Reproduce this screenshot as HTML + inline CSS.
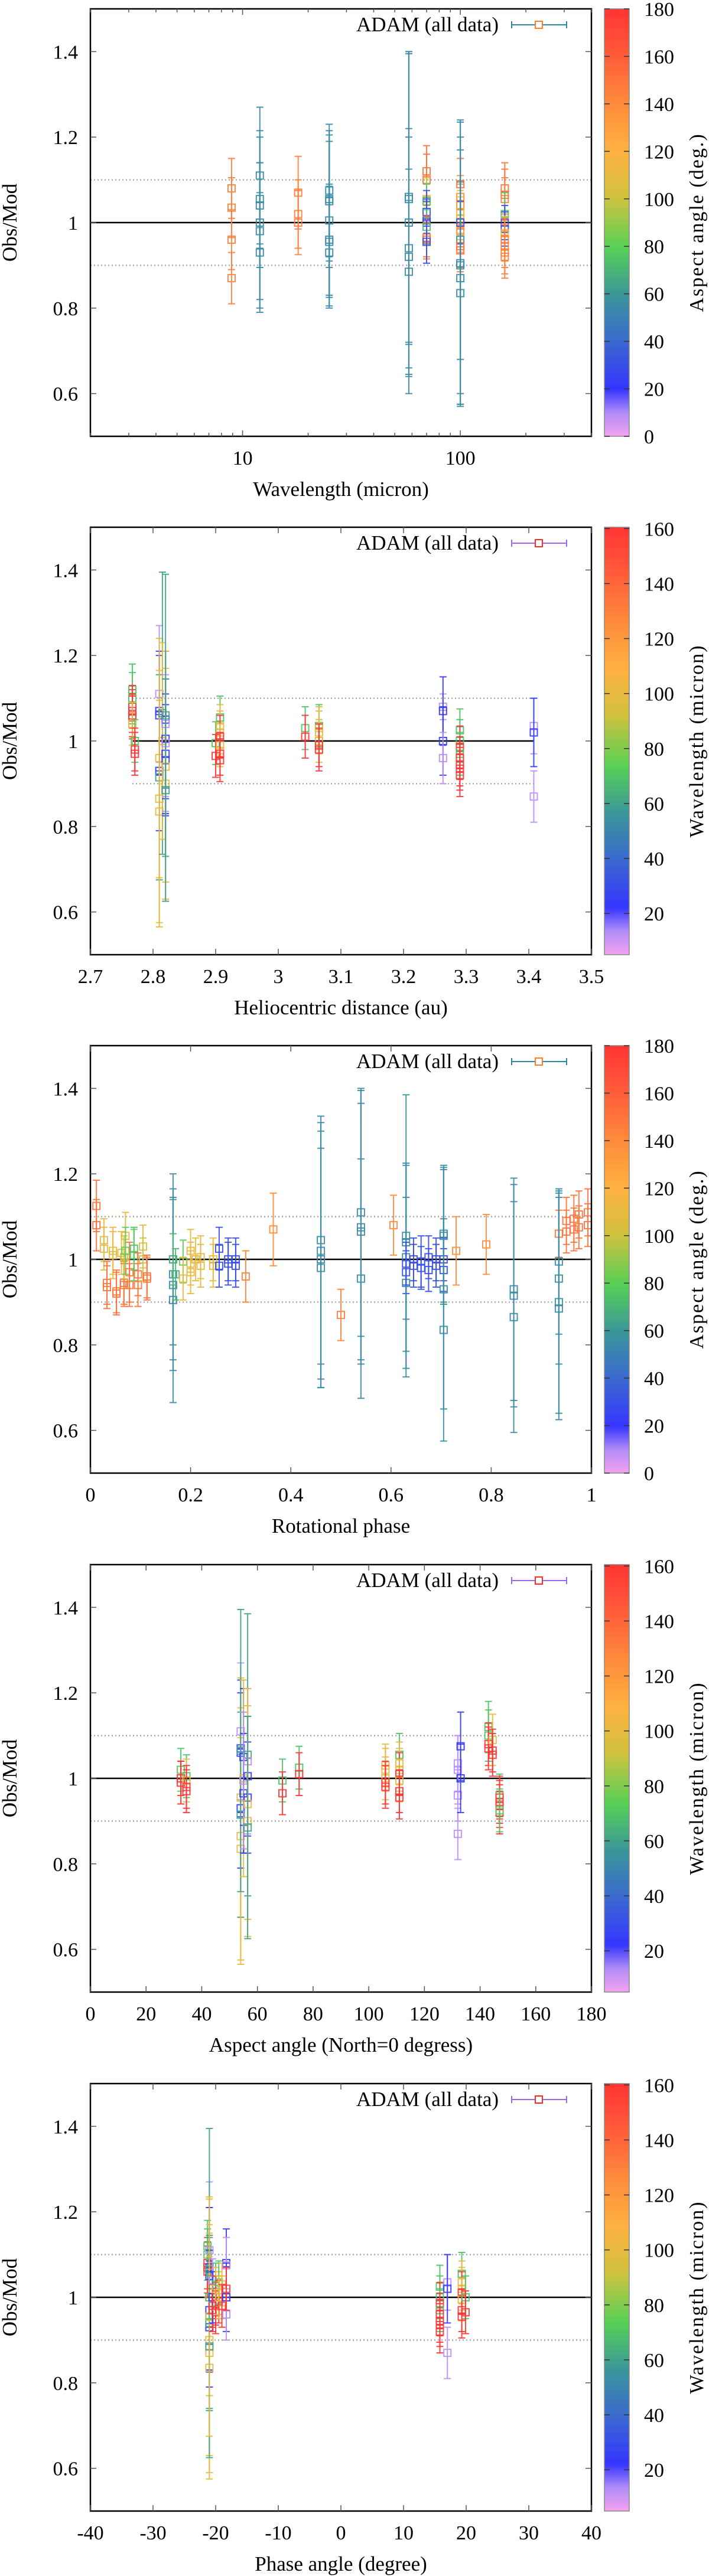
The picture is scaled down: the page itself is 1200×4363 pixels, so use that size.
<!DOCTYPE html>
<html><head><meta charset="utf-8">
<style>
html,body{margin:0;padding:0;background:#fff;}
svg{display:block;}
text{font-family:"Liberation Serif",serif;fill:#000;}
</style></head>
<body>
<svg id="fig" width="1200" height="4363" viewBox="0 0 1200 4363" xmlns="http://www.w3.org/2000/svg">
<defs id="defs"></defs>
</svg>
<script>
// ---------- Panel 1: Wavelength (log) vs Obs/Mod, color = aspect angle ----------
const p1X = [8.9,8.9,8.9,8.9, 12,12,12,12,12,12, 18,18,18, 25,25,25,25,25,25,25, 58,58,58,58,58,58,
  70,70,70,70,70,70,70,70,70,70,70, 100,100,100,100,100,100,100,100,100,100,100,100,100,100,
  160,160,160,160,160,160,160,160,160,160,160];
const p1Y = [1.08,1.035,0.96,0.87, 1.11,1.055,1.04,1.0,0.98,0.93, 1.07,1.02,1.0, 1.075,1.055,1.05,1.005,0.96,0.955,0.93, 1.06,1.055,1.0,0.94,0.92,0.885,
  1.12,1.1,1.055,1.05,1.025,1.005,1.0,0.99,0.965,0.96,0.955, 1.09,1.06,1.04,1.025,1.01,1.0,0.98,0.96,0.945,0.935,0.905,0.9,0.87,0.835,
  1.08,1.065,1.055,1.02,1.0,0.985,0.975,0.96,0.945,0.93,0.92];
const p1E = [0.07,0.07,0.07,0.06, 0.16,0.16,0.1,0.2,0.16,0.14, 0.085,0.08,0.075, 0.155,0.16,0.14,0.2,0.13,0.13,0.13, 0.34,0.34,0.4,0.28,0.28,0.24,
  0.06,0.06,0.05,0.04,0.05,0.05,0.05,0.04,0.05,0.04,0.05, 0.06,0.05,0.05,0.05,0.05,0.05,0.05,0.28,0.05,0.05,0.33,0.3,0.3,0.26,
  0.06,0.06,0.05,0.05,0.04,0.04,0.04,0.05,0.05,0.05,0.05];
const p1C = [145,145,145,145, 55,55,55,55,55,55, 145,145,145, 55,55,55,55,55,55,55, 55,55,55,55,55,55,
  150,150,100,75,30,30,28,75,150,150,30, 150,140,140,110,105,30,140,55,150,150,55,55,55,55,
  150,150,145,75,30,30,110,145,145,145,145];

// ---------- Panel 2: Heliocentric distance, color = wavelength ----------
const p2X = [2.767,2.767,2.767,2.767,2.767,2.767,2.767, 2.771,2.771,2.771,
  2.81,2.81,2.81,2.81,2.81,2.81,2.81,2.81, 2.815,2.815,
  2.82,2.82,2.82,2.82,2.82,2.82,2.82,2.82,2.82,2.82,
  2.90,2.90, 2.907,2.907,2.907,2.907,2.907,2.907,2.907, 3.043,3.043,
  3.065,3.065,3.065,3.065,3.065,3.065, 3.263,3.263,3.263,3.263,
  3.29,3.29,3.29,3.29,3.29,3.29,3.29,3.29, 3.408,3.408,3.408];
const p2Y = [1.12,1.1,1.08,1.07,1.06,1.055,1.04, 1.0,0.98,0.97,
  1.11,1.07,1.06,0.93,0.96,0.915,0.865,0.835, 1.065,1.0,
  1.05,1.04,1.005,0.995,0.97,0.955,0.94,0.9,1.06,0.885,
  0.995,0.965, 1.055,1.035,1.02,1.01,0.99,0.97,0.955, 1.03,1.01,
  1.035,1.03,1.02,1.0,0.99,0.98, 1.08,1.07,1.0,0.96,
  1.025,1.0,0.985,0.97,0.96,0.945,0.935,0.92, 1.035,1.02,0.87];
const p2E = [0.06,0.06,0.05,0.05,0.05,0.05,0.05, 0.05,0.05,0.05,
  0.16,0.14,0.14,0.14,0.28,0.24,0.3,0.26, 0.33,0.23,
  0.16,0.17,0.14,0.16,0.14,0.13,0.27,0.27,0.33,0.26,
  0.05,0.05, 0.05,0.05,0.05,0.05,0.05,0.05,0.05, 0.05,0.05,
  0.05,0.05,0.05,0.05,0.05,0.05, 0.03,0.08,0.08,0.06,
  0.05,0.05,0.05,0.05,0.05,0.05,0.05,0.05, 0.065,0.08,0.06];
const p2C = [70,70,160,160,160,160,100, 70,160,160,
  12,24,24,24,100,60,100,100, 60,100,
  24,12,24,12,24,24,100,100,60,60,
  70,160, 70,100,100,160,100,160,160, 70,160,
  70,100,100,100,160,160, 12,24,24,12,
  70,70,160,70,160,160,160,160, 12,24,12];

// ---------- Panel 3: Rotational phase, color = aspect angle ----------
const p3X = [0.012,0.012, 0.027,0.027, 0.033,0.033, 0.045,0.045, 0.052,0.052, 0.062, 0.067,0.067,0.067, 0.07,0.07,
  0.078,0.078, 0.087,0.087, 0.095,0.095, 0.105,0.105, 0.113,0.113,
  0.165,0.165,0.165,0.165,0.165, 0.17, 0.185,0.185, 0.2,0.2,0.2, 0.21, 0.22,0.22, 0.245,0.245,
  0.257,0.257, 0.275,0.275, 0.29,0.29, 0.31, 0.365, 0.46,0.46,0.46,0.46, 0.5,
  0.54,0.54,0.54,0.54, 0.605, 0.63,0.63,0.63,0.63,0.63,0.63, 0.645,0.645, 0.66,0.66, 0.675,0.675, 0.69,0.69,
  0.705,0.705,0.705,0.705,0.705,0.705, 0.73, 0.79, 0.845,0.845,0.845,
  0.935,0.935,0.935,0.935,0.935, 0.95,0.95, 0.965,0.965, 0.975,0.975, 0.993,0.993];
const p3Y = [1.125,1.08, 1.045,1.025, 0.945,0.935, 1.02,1.01, 0.925,0.92, 1.015, 0.945,0.94,1.005, 1.055,1.02,
  0.97,0.94, 1.01,1.025, 0.94,0.965, 1.03,1.0, 0.955,0.96,
  1.0,0.965,0.94,0.905,1.0, 0.965, 0.995,0.955, 0.99,0.97,1.02, 1.0, 1.005,0.985, 1.0,0.985,
  1.025,0.985, 1.0,0.99, 1.0,0.985, 0.96, 1.07, 1.045,1.02,1.0,0.98, 0.87,
  1.11,1.075,1.065,0.955, 1.08, 1.055,1.04,1.005,0.97,0.945,0.99, 1.0,0.985, 0.995,0.98, 1.005,0.975, 1.0,0.985,
  1.06,1.055,1.0,0.975,0.93,0.835, 1.02, 1.035, 0.93,0.915,0.865,
  1.06,0.995,0.955,0.9,0.885, 1.09,1.065, 1.095,1.07, 1.105,1.075, 1.11,1.08];
const p3E = [0.06,0.06, 0.05,0.05, 0.05,0.05, 0.055,0.055, 0.05,0.05, 0.05, 0.05,0.05,0.05, 0.055,0.055,
  0.07,0.05, 0.06,0.05, 0.05,0.05, 0.05,0.05, 0.05,0.05,
  0.2,0.2,0.2,0.24,0.06, 0.06, 0.05,0.05, 0.05,0.05,0.05, 0.05, 0.05,0.05, 0.05,0.05,
  0.05,0.05, 0.05,0.05, 0.05,0.05, 0.06, 0.085, 0.29,0.3,0.3,0.28, 0.06,
  0.29,0.32,0.3,0.28, 0.07, 0.33,0.18,0.22,0.05,0.2,0.05, 0.05,0.05, 0.06,0.05, 0.05,0.05, 0.05,0.05,
  0.16,0.16,0.05,0.05,0.28,0.26, 0.08, 0.07, 0.26,0.26,0.27,
  0.055,0.17,0.2,0.26,0.26, 0.055,0.05, 0.055,0.05, 0.055,0.05, 0.055,0.05];
const p3C = [150,150, 110,110, 150,150, 110,110, 150,150, 110, 150,150,100, 110,80,
  150,150, 80,75, 150,150, 110,100, 150,150,
  55,55,55,55,70, 70, 80,110, 110,110,110, 110, 110,110, 110,110,
  30,30, 30,30, 30,30, 145, 140, 55,55,55,55, 145,
  55,55,55,55, 140, 58,55,55,30,55,30, 30,30, 30,30, 30,30, 30,30,
  55,55,30,30,55,55, 140, 140, 55,55,55,
  150,55,55,55,55, 150,150, 150,150, 150,150, 150,150];

// ---------- Panel 4: Aspect angle, color = wavelength ----------
const p4X = [32.5,32.5,32.5, 34.5,34.5,34.5,34.5,
  54,54,54,54,54,54,54,54,54, 55,55,55,55, 56.5,56.5,56.5,56.5,56.5,56.5,56.5,
  69,69, 75,75, 106,106,106,106,106, 111,111,111,111,111,111,111,
  132,132,132,132, 133,133, 143,143,143,143, 144.5,144.5,144.5, 147,147,147,147,147,147];
const p4Y = [1.02,0.99,1.0, 1.005,0.995,0.98,0.97,
  1.11,1.07,1.06,0.93,0.955,0.915,0.865,0.835,1.065, 1.05,1.0,0.965,0.995, 1.055,1.04,1.005,0.955,0.94,0.9,0.885,
  0.995,0.965, 1.025,1.01, 1.03,1.02,1.0,0.99,0.98, 1.055,1.035,1.02,1.01,0.995,0.97,0.955,
  1.035,1.02,0.96,0.87, 1.075,1.0, 1.12,1.1,1.08,1.07, 1.09,1.065,1.055, 0.96,0.955,0.945,0.935,0.92,0.925];
const p4E = [0.05,0.05,0.04, 0.05,0.05,0.05,0.05,
  0.16,0.16,0.14,0.14,0.28,0.24,0.3,0.26,0.33, 0.16,0.23,0.14,0.16, 0.33,0.17,0.14,0.13,0.27,0.27,0.26,
  0.05,0.05, 0.05,0.05, 0.05,0.05,0.05,0.05,0.05, 0.05,0.05,0.05,0.05,0.05,0.05,0.05,
  0.065,0.08,0.06,0.06, 0.08,0.08, 0.06,0.06,0.05,0.05, 0.06,0.05,0.05, 0.05,0.05,0.05,0.05,0.05,0.05];
const p4C = [70,160,160, 70,100,160,160,
  12,24,24,24,100,60,100,100,60, 24,100,24,12, 60,12,24,24,100,100,60,
  70,160, 70,160, 100,100,100,160,160, 70,100,100,160,100,160,160,
  12,12,12,12, 24,24, 70,70,160,160, 100,160,160, 70,160,160,160,160,70];

// ---------- Panel 5: Phase angle, color = wavelength ----------
const p5X = [-21.3,-21.3,-21.3,-21.3,-21.3,
  -21,-21,-21,-21,-21,-21,-21,-21,-21,-21,-21,-21,-21,-21,-21,
  -20.5,-20.5,-20.5,-20.5,-20.5, -20,-20,-20,-20,-20, -19.5,-19.5,-19.5,-19.5, -19,-19,-19,
  -18.3,-18.3,-18.3,-18.3,-18.3,
  15.8,15.8,15.8,15.8,15.8,15.8,15.8,15.8, 17,17,17,
  19.3,19.3,19.3,19.3,19.3,19.3,19.3, 19.9,19.9];
const p5Y = [1.07,1.06,1.08,1.12,1.1,
  1.11,1.07,1.05,0.97,0.955,0.93,1.0,0.94,0.9,0.87,0.835,1.065,0.885,0.955,1.0,
  1.0,0.98,0.97,1.04,1.0, 1.03,1.02,1.0,0.985,0.965, 1.01,0.99,1.035,1.0, 1.03,1.0,0.98,
  1.08,1.075,1.0,0.96,1.02,
  1.025,1.0,0.985,0.97,0.96,0.945,0.935,0.92, 1.035,1.02,0.87,
  1.055,1.035,1.02,1.01,0.995,0.97,0.955, 1.0,0.965];
const p5E = [0.06,0.06,0.06,0.06,0.06,
  0.16,0.14,0.16,0.14,0.13,0.14,0.23,0.2,0.27,0.28,0.26,0.33,0.26,0.28,0.05,
  0.05,0.05,0.05,0.05,0.06, 0.05,0.05,0.05,0.05,0.05, 0.05,0.05,0.05,0.05, 0.05,0.05,0.05,
  0.08,0.065,0.08,0.06,0.05,
  0.05,0.05,0.05,0.05,0.05,0.05,0.05,0.05, 0.065,0.08,0.06,
  0.05,0.05,0.05,0.05,0.05,0.05,0.05, 0.05,0.05];
const p5C = [160,160,160,70,70,
  12,24,24,24,24,24,100,60,100,100,100,60,60,100,70,
  70,160,160,12,24, 70,100,160,160,160, 100,160,70,100, 100,100,160,
  24,12,24,12,160,
  70,70,160,70,160,160,160,160, 12,24,12,
  70,100,100,160,100,160,160, 70,160];

// ---------- tick label arrays ----------
const yTicks = [0.6, 0.8, 1, 1.2, 1.4];
const p1XMajor = [10, 100];
const p1XMinor = [2,3,4,5,6,7,8,9,20,30,40,50,60,70,80,90,200,300,400];
const p2XTicks = [2.7,2.8,2.9,3,3.1,3.2,3.3,3.4,3.5];
const p3XTicks = [0,0.2,0.4,0.6,0.8,1];
const p4XTicks = [0,20,40,60,80,100,120,140,160,180];
const p5XTicks = [-40,-30,-20,-10,0,10,20,30,40];
const cbAspectTicks = [0,20,40,60,80,100,120,140,160,180];
const cbWaveTicks = [20,40,60,80,100,120,140,160];

// ---------- rendering ----------
const NS = 'http://www.w3.org/2000/svg';
const svg = document.getElementById('fig');
const defs = document.getElementById('defs');
const PL = 153, PR = 1001, PH = 724;
const CBL = 1023, CBR = 1065;
const tops = [15, 893, 1771, 2650, 3529];
const stops = [[0,'#f4a2f0'],[0.055,'#b08cf8'],[0.11,'#3535ff'],[0.22,'#3a68d0'],[0.33,'#3a969a'],[0.44,'#55d055'],[0.56,'#d2c23e'],[0.67,'#ffb040'],[0.78,'#ff8a3a'],[0.89,'#ff5c3a'],[1,'#ff3434']];
function hex(c){return [parseInt(c.substr(1,2),16),parseInt(c.substr(3,2),16),parseInt(c.substr(5,2),16)];}
function palette(t){
  t = Math.max(0, Math.min(1, t));
  for (let i = 1; i < stops.length; i++) {
    if (t <= stops[i][0]) {
      const a = stops[i-1], b = stops[i];
      const f = (t - a[0]) / (b[0] - a[0]);
      const ca = hex(a[1]), cb = hex(b[1]);
      return 'rgb(' + ca.map((v,k)=>Math.round(v + (cb[k]-v)*f)).join(',') + ')';
    }
  }
  return stops[stops.length-1][1];
}
function el(tag, attrs, parent){
  const e = document.createElementNS(NS, tag);
  for (const k in attrs) e.setAttribute(k, attrs[k]);
  (parent || svg).appendChild(e);
  return e;
}
function txt(s, attrs, parent){ const t = el('text', attrs, parent); t.textContent = s; return t; }

// gradient
const grad = el('linearGradient', {id:'cbgrad', x1:'0', y1:'1', x2:'0', y2:'0'}, defs);
stops.forEach(s => el('stop', {offset: s[0], 'stop-color': s[1]}, grad));

function drawPanel(idx, cfg, xs, ys, es, cs){
  const top = tops[idx], bot = top + PH;
  const g = el('g', {});
  
  
  const sx = cfg.sx;
  const sy = v => bot - (v - 0.5) / 1.0 * PH;
  const cnorm = v => (v - cfg.cmin) / (cfg.cmax - cfg.cmin);

  // reference lines
  const lx0 = cfg.lineX0 !== undefined ? sx(cfg.lineX0) : PL;
  const lx1 = cfg.lineX1 !== undefined ? sx(cfg.lineX1) : PR;
  [0.9, 1.1].forEach(v => {
    const l = el('line', {x1:lx0, x2:lx1, y1:sy(v), y2:sy(v), stroke:'#999', 'stroke-width':2, 'stroke-dasharray':'2,4'}, g);
    
    
  });
  const one = el('line', {x1:lx0, x2:lx1, y1:sy(1), y2:sy(1), stroke:'#000', 'stroke-width':2.5}, g);
  
  

  // data
  const dg = el('g', {}, g);
  
  
  for (let i = 0; i < xs.length; i++) {
    const x = sx(xs[i]), y = sy(ys[i]);
    const y1 = Math.max(sy(ys[i] + es[i]), top), y2 = Math.min(sy(ys[i] - es[i]), bot);
    const col = palette(cnorm(cs[i]));
    const pg = el('g', {stroke: col, 'stroke-width': 2, fill:'none', opacity: 0.92}, dg);
    
    
    el('line', {x1:x, x2:x, y1:y1, y2:y2}, pg);
    el('line', {x1:x-6, x2:x+6, y1:y1, y2:y1}, pg);
    el('line', {x1:x-6, x2:x+6, y1:y2, y2:y2}, pg);
    el('rect', {x:x-6, y:y-6, width:12, height:12}, pg);
  }

  // frame
  const fr = el('rect', {x:PL, y:top, width:PR-PL, height:PH, fill:'none', stroke:'#000', 'stroke-width':2.5}, g);
  
  

  // y ticks
  yTicks.forEach(v => {
    const y = sy(v);
    el('line', {x1:PL, x2:PL+10, y1:y, y2:y, stroke:'#555', 'stroke-width':1.5}, g);
    el('line', {x1:PR-10, x2:PR, y1:y, y2:y, stroke:'#555', 'stroke-width':1.5}, g);
    const t = txt(String(v), {x:132, y:y+12, 'font-size':34, 'text-anchor':'end'}, g);
    
    
  });
  // x ticks
  cfg.xTicks.forEach(v => {
    const x = sx(v);
    el('line', {x1:x, x2:x, y1:bot, y2:bot-10, stroke:'#555', 'stroke-width':1.5}, g);
    el('line', {x1:x, x2:x, y1:top, y2:top+10, stroke:'#555', 'stroke-width':1.5}, g);
    const t = txt(String(v), {x:x, y:top+772, 'font-size':34, 'text-anchor':'middle'}, g);
    
    
  });
  (cfg.xMinor || []).forEach(v => {
    const x = sx(v);
    el('line', {x1:x, x2:x, y1:bot, y2:bot-6, stroke:'#555', 'stroke-width':1.5}, g);
    el('line', {x1:x, x2:x, y1:top, y2:top+6, stroke:'#555', 'stroke-width':1.5}, g);
  });

  // titles
  const xt = txt(cfg.xTitle, {x:(PL+PR)/2, y:top+825, 'font-size':35, 'text-anchor':'middle'}, g);
  
  
  const yt = txt('Obs/Mod', {x:0, y:0, 'font-size':35, 'text-anchor':'middle', transform:'translate(28,' + (top+PH/2) + ') rotate(-90)'}, g);
  
  

  // legend
  const lg = el('g', {}, g);
  
  
  txt('ADAM (all data)', {x:844, y:top+38, 'font-size':35, 'text-anchor':'end'}, lg);
  const ly = top + 27;
  el('line', {x1:866, x2:959, y1:ly, y2:ly, stroke:cfg.legLine, 'stroke-width':2}, lg);
  el('line', {x1:866, x2:866, y1:ly-6, y2:ly+6, stroke:cfg.legLine, 'stroke-width':2}, lg);
  el('line', {x1:959, x2:959, y1:ly-6, y2:ly+6, stroke:cfg.legLine, 'stroke-width':2}, lg);
  el('rect', {x:906, y:ly-6, width:12, height:12, fill:'#fff', stroke:cfg.legBox, 'stroke-width':2}, lg);

  // colorbar
  const cb = el('g', {}, g);
  
  
  el('rect', {x:CBL, y:top, width:CBR-CBL, height:PH, fill:'url(#cbgrad)', stroke:'#888', 'stroke-width':1.5}, cb);
  cfg.cTicks.forEach(v => {
    const y = bot - cnorm(v) * PH;
    el('line', {x1:CBL, x2:CBL+9, y1:y, y2:y, stroke:'#333', 'stroke-width':1.5}, cb);
    el('line', {x1:CBR-9, x2:CBR, y1:y, y2:y, stroke:'#333', 'stroke-width':1.5}, cb);
    const t = txt(String(v), {x:1090, y:y+12, 'font-size':34}, cb);
    
    
  });
  const ct = txt(cfg.cTitle, {x:0, y:0, 'font-size':34, 'letter-spacing':2, 'text-anchor':'middle', transform:'translate(1190,' + (top+PH/2) + ') rotate(-90)'}, cb);
  
  
}

function linScale(a, b){ return v => PL + (v - a) / (b - a) * (PR - PL); }
const logScale = (a, b) => v => PL + (Math.log10(v) - Math.log10(a)) / (Math.log10(b) - Math.log10(a)) * (PR - PL);

drawPanel(0, {key:'wavelength', sx:logScale(2,400), xTicks:p1XMajor, xMinor:p1XMinor, xTitle:'Wavelength (micron)',
  cmin:0, cmax:180, cTicks:cbAspectTicks, cTitle:'Aspect angle (deg.)', legLine:'#2a8a99', legBox:'#ff7a30'}, p1X, p1Y, p1E, p1C);
drawPanel(1, {key:'heliocentric', sx:linScale(2.7,3.5), xTicks:p2XTicks, xTitle:'Heliocentric distance (au)', lineX0:2.767, lineX1:3.408,
  cmin:5, cmax:160.5, cTicks:cbWaveTicks, cTitle:'Wavelength (micron)', legLine:'#9966ee', legBox:'#ff2a2a'}, p2X, p2Y, p2E, p2C);
drawPanel(2, {key:'rotational-phase', sx:linScale(0,1), xTicks:p3XTicks, xTitle:'Rotational phase',
  cmin:0, cmax:180, cTicks:cbAspectTicks, cTitle:'Aspect angle (deg.)', legLine:'#2a8a99', legBox:'#ff7a30'}, p3X, p3Y, p3E, p3C);
drawPanel(3, {key:'aspect-angle', sx:linScale(0,180), xTicks:p4XTicks, xTitle:'Aspect angle (North=0 degress)',
  cmin:5, cmax:160.5, cTicks:cbWaveTicks, cTitle:'Wavelength (micron)', legLine:'#9966ee', legBox:'#ff2a2a'}, p4X, p4Y, p4E, p4C);
drawPanel(4, {key:'phase-angle', sx:linScale(-40,40), xTicks:p5XTicks, xTitle:'Phase angle (degree)',
  cmin:5, cmax:160.5, cTicks:cbWaveTicks, cTitle:'Wavelength (micron)', legLine:'#9966ee', legBox:'#ff2a2a'}, p5X, p5Y, p5E, p5C);
</script>
</body></html>
